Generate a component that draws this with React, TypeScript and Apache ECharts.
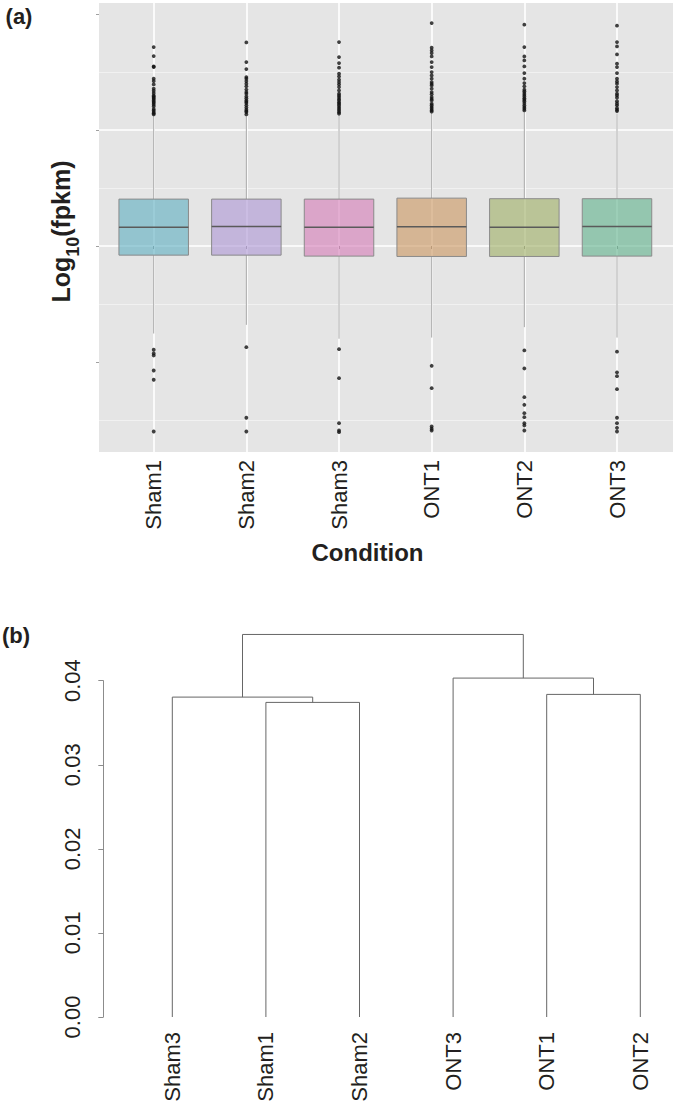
import React, { useEffect, useRef } from 'react';
import * as echarts from 'echarts';

// ---------- Panel (a): boxplot data ----------
const conditions = ['Sham1', 'Sham2', 'Sham3', 'ONT1', 'ONT2', 'ONT3'];
const boxColors = [
  'rgba(91,174,192,0.6)',
  'rgba(172,149,211,0.6)',
  'rgba(211,121,181,0.6)',
  'rgba(202,149,94,0.6)',
  'rgba(156,174,99,0.6)',
  'rgba(94,177,138,0.6)',
];
// [lower whisker, Q1, median, Q3, upper whisker]
const statsSham1 = [-1.51, -0.157, 0.326, 0.81, 2.25];
const statsSham2 = [-1.36, -0.157, 0.338, 0.81, 2.24];
const statsSham3 = [-1.6, -0.174, 0.326, 0.81, 2.27];
const statsONT1 = [-1.58, -0.18, 0.333, 0.827, 2.3];
const statsONT2 = [-1.4, -0.18, 0.326, 0.817, 2.31];
const statsONT3 = [-1.58, -0.174, 0.338, 0.817, 2.29];
const boxStats = [statsSham1, statsSham2, statsSham3, statsONT1, statsONT2, statsONT3];

const outSham1 = [3.434, 3.279, 3.101, 3.09, 2.888, 2.847, 2.79, 2.716, 2.68, 2.64, 2.6, 2.58, 2.56, 2.54, 2.514, 2.49, 2.467, 2.44, 2.41, 2.364, 2.34, 2.312, 2.29, 2.272,
  -1.79, -1.854, -1.889, -2.148, -2.308, -3.201];
const outSham2 = [3.515, 3.175, 3.054, 2.916, 2.888, 2.847, 2.802, 2.756, 2.7, 2.657, 2.629, 2.583, 2.55, 2.514, 2.49, 2.467, 2.428, 2.39, 2.353, 2.33, 2.312, 2.272,
  -1.745, -2.964, -3.201];
const outSham3 = [3.52, 3.261, 3.158, 3.078, 2.975, 2.928, 2.871, 2.83, 2.79, 2.743, 2.686, 2.629, 2.6, 2.571, 2.54, 2.514, 2.48, 2.457, 2.43, 2.398, 2.37, 2.341, 2.31, 2.284,
  -1.78, -2.281, -3.058, -3.184, -3.213];
const outONT1 = [3.848, 3.424, 3.377, 3.33, 3.273, 3.175, 3.089, 3.002, 2.945, 2.888, 2.83, 2.8, 2.773, 2.716, 2.657, 2.62, 2.571, 2.54, 2.514, 2.457, 2.43, 2.398, 2.37, 2.341, 2.32,
  -2.067, -2.453, -3.115, -3.154, -3.184];
const outONT2 = [3.821, 3.434, 3.273, 3.204, 3.101, 2.985, 2.888, 2.812, 2.756, 2.699, 2.67, 2.64, 2.61, 2.583, 2.55, 2.526, 2.5, 2.467, 2.43, 2.398, 2.37, 2.341,
  -1.802, -2.113, -2.609, -2.74, -2.885, -2.954, -3.058, -3.097, -3.184];
const outONT3 = [3.804, 3.52, 3.446, 3.308, 3.147, 3.089, 2.985, 2.888, 2.84, 2.802, 2.743, 2.686, 2.629, 2.6, 2.56, 2.501, 2.46, 2.428, 2.38, 2.35, 2.329,
  -1.823, -2.18, -2.246, -2.471, -2.964, -3.058, -3.137, -3.201];
const outliers = [outSham1, outSham2, outSham3, outONT1, outONT2, outONT3];

const yMin = -3.555;
const yMax = 4.195;
const yMajorTicks = [-2, 0, 2, 4];
const minorShift = 1; // minor grid lines sit halfway between major lines

// ---------- Panel (b): dendrogram data ----------
const leafLabels = ['Sham3', 'Sham1', 'Sham2', 'ONT3', 'ONT1', 'ONT2'];
// hclust-style merges: negative = leaf (1-based position in leafLabels), positive = earlier merge row
const mergeLeft = [-2, -1, -5, -4, 2];
const mergeRight = [-3, 1, -6, 3, 4];
const mergeHeight = [0.03742, 0.03805, 0.03837, 0.04031, 0.0455];
const dendroMin = 0;
const dendroMax = 0.04;
const dendroStep = 0.01;

const FONT = "'Liberation Sans', Arial, Helvetica, sans-serif";
const TEXT = '#231F20';

function buildDendroLines() {
  const nodes: { x: number; y: number }[] = [];
  const get = (ref: number) => (ref < 0 ? { x: -ref - 1, y: 0 } : nodes[ref - 1]);
  const lines: number[][][] = [];
  for (let i = 0; i < mergeHeight.length; i++) {
    const a = get(mergeLeft[i]);
    const b = get(mergeRight[i]);
    const h = mergeHeight[i];
    lines.push([[a.x, a.y], [a.x, h], [b.x, h], [b.x, b.y]]);
    nodes.push({ x: (a.x + b.x) / 2, y: h });
  }
  return lines;
}

export default function App() {
  const ref = useRef<HTMLDivElement>(null);
  useEffect(() => {
    if (!ref.current) return;
    const chart = echarts.init(ref.current, null, { renderer: 'svg' });

    const boxData = conditions.map((c, i) => [i, ...boxStats[i]]);
    const scatterData: number[][] = [];
    outliers.forEach((arr, i) => arr.forEach((v) => scatterData.push([i, v])));
    const dendroLines = buildDendroLines();

    const titleMain = 25;
    const titleSub = 18;
    const titleStyle = (size: number) => ({ fontSize: size, fontWeight: 'bold', fontFamily: FONT, fill: TEXT, align: 'left', verticalAlign: 'middle' });

    const option: any = {
      animation: false,
      grid: [
        { left: 99, right: 2, top: 3, height: 449, show: true, backgroundColor: '#E5E5E5', borderWidth: 0 },
        { left: 153.7, right: 58, top: 3, height: 449 },
        { left: 172.3, right: 34.7, top: 680.7, height: 336.3 },
        { left: 103.3, right: 570.7, top: 680.7, height: 336.3 },
      ],
      xAxis: [
        { gridIndex: 0, type: 'value', show: false, min: 0, max: 1 },
        {
          gridIndex: 1,
          type: 'category',
          data: conditions,
          boundaryGap: false,
          axisLine: { show: false },
          axisTick: { show: true, length: 3, lineStyle: { color: '#A0A0A0' } },
          axisLabel: { rotate: 90, fontSize: 22, fontFamily: FONT, color: TEXT, margin: 8 },
          splitLine: { show: true, lineStyle: { color: '#FFFFFF', width: 1.6 } },
        },
        {
          gridIndex: 2,
          type: 'value',
          min: 0,
          max: 5,
          interval: 1,
          axisLine: { show: false },
          axisTick: { show: false },
          splitLine: { show: false },
          axisLabel: {
            rotate: 90,
            fontSize: 22,
            fontFamily: FONT,
            color: TEXT,
            margin: 15,
            formatter: (v: number) => leafLabels[Math.round(v)] ?? '',
          },
        },
        { gridIndex: 3, type: 'value', show: false, min: 0, max: 1 },
      ],
      yAxis: [
        {
          gridIndex: 0,
          type: 'value',
          min: yMin,
          max: yMax,
          splitNumber: 4,
          axisLine: { show: false },
          axisLabel: { show: false },
          axisTick: { show: true, length: 3, customValues: yMajorTicks, lineStyle: { color: '#A0A0A0' } },
          splitLine: { show: true, showMinLine: false, showMaxLine: false, lineStyle: { color: '#FFFFFF', width: 1.6 } },
        },
        {
          gridIndex: 0,
          type: 'value',
          position: 'right',
          min: yMin + minorShift,
          max: yMax + minorShift,
          splitNumber: 4,
          axisLine: { show: false },
          axisLabel: { show: false },
          axisTick: { show: false },
          splitLine: { show: true, showMinLine: false, showMaxLine: false, lineStyle: { color: '#F1F1F1', width: 1 } },
        },
        { gridIndex: 1, type: 'value', show: false, min: yMin, max: yMax },
        { gridIndex: 2, type: 'value', show: false, min: dendroMin, max: dendroMax },
        {
          gridIndex: 3,
          type: 'value',
          min: dendroMin,
          max: dendroMax,
          interval: dendroStep,
          axisLine: { show: true, lineStyle: { color: '#8C8C8C', width: 1 } },
          axisTick: { show: true, length: 5, lineStyle: { color: '#8C8C8C' } },
          splitLine: { show: false },
          axisLabel: {
            rotate: 90,
            fontSize: 22,
            fontFamily: FONT,
            color: TEXT,
            margin: 20,
            formatter: (v: number) => v.toFixed(2),
          },
        },
      ],
      series: [
        {
          type: 'custom',
          xAxisIndex: 1,
          yAxisIndex: 2,
          data: boxData,
          encode: { x: 0, y: [1, 2, 3, 4, 5] },
          z: 2,
          renderItem: (params: any, api: any) => {
            const x = api.value(0);
            const lo = api.coord([x, api.value(1)]);
            const q1 = api.coord([x, api.value(2)]);
            const med = api.coord([x, api.value(3)]);
            const q3 = api.coord([x, api.value(4)]);
            const hi = api.coord([x, api.value(5)]);
            const hw = (api.size([1, 0])[0] * 0.75) / 2;
            const color = boxColors[params.dataIndex];
            return {
              type: 'group',
              children: [
                { type: 'line', shape: { x1: lo[0], y1: lo[1], x2: q1[0], y2: q1[1] }, style: { stroke: '#A8A8A8', lineWidth: 1 } },
                { type: 'line', shape: { x1: q3[0], y1: q3[1], x2: hi[0], y2: hi[1] }, style: { stroke: '#A8A8A8', lineWidth: 1 } },
                {
                  type: 'rect',
                  shape: { x: q3[0] - hw, y: q3[1], width: hw * 2, height: q1[1] - q3[1] },
                  style: { fill: color, stroke: '#8A8A8A', lineWidth: 1 },
                },
                {
                  type: 'line',
                  shape: { x1: med[0] - hw, y1: med[1], x2: med[0] + hw, y2: med[1] },
                  style: { stroke: '#5A5A5A', lineWidth: 1.5 },
                },
              ],
            };
          },
        },
        {
          type: 'scatter',
          xAxisIndex: 1,
          yAxisIndex: 2,
          data: scatterData,
          symbol: 'circle',
          symbolSize: 3.8,
          itemStyle: { color: '#111111' },
          z: 3,
        },
        ...dendroLines.map((pts) => ({
          type: 'line',
          xAxisIndex: 2,
          yAxisIndex: 3,
          data: pts,
          symbol: 'none',
          clip: false,
          lineStyle: { color: '#666666', width: 1 },
        })),
      ],
      graphic: [
        {
          type: 'text',
          x: 19,
          y: 16,
          style: { text: '(a)', fontSize: 22, fontWeight: 'bold', fontFamily: FONT, fill: TEXT, align: 'center', verticalAlign: 'middle' },
        },
        {
          type: 'text',
          x: 16,
          y: 635,
          style: { text: '(b)', fontSize: 22, fontWeight: 'bold', fontFamily: FONT, fill: TEXT, align: 'center', verticalAlign: 'middle' },
        },
        {
          type: 'text',
          x: 367.5,
          y: 552,
          style: { text: 'Condition', fontSize: 24, fontWeight: 'bold', fontFamily: FONT, fill: TEXT, align: 'center', verticalAlign: 'middle' },
        },
        {
          // y-axis title: baseline of main text at x = 70, centred at y = 231.5
          type: 'group',
          x: 70,
          y: 231.5,
          rotation: Math.PI / 2,
          children: [
            { type: 'text', x: -71.1, y: -0.347 * titleMain, style: { text: 'Log', ...titleStyle(titleMain) } },
            { type: 'text', x: -25.3, y: 9 - 0.347 * titleSub, style: { text: '10', ...titleStyle(titleSub) } },
            { type: 'text', x: -5.3, y: -0.347 * titleMain, style: { text: '(fpkm)', ...titleStyle(titleMain) } },
          ],
        },
      ],
    };

    chart.setOption(option);
    return () => chart.dispose();
  }, []);

  return (
    <div
      ref={ref}
      style={{ position: 'absolute', left: 0, top: 0, width: 675, height: 1105, background: '#FFFFFF' }}
    />
  );
}
